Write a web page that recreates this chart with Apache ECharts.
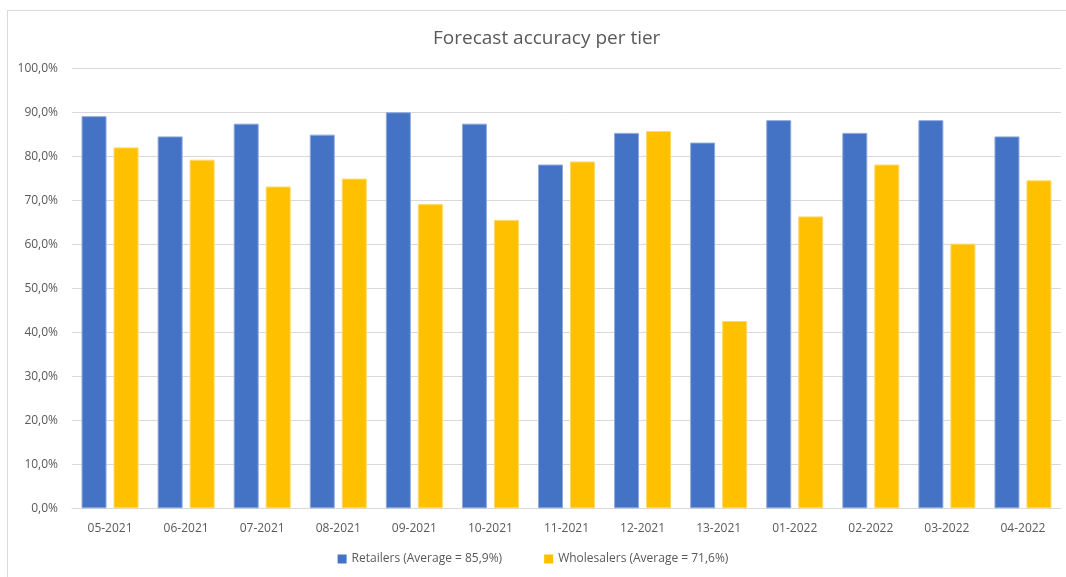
<!DOCTYPE html>
<html>
<head>
<meta charset="utf-8">
<script src="https://cdn.jsdelivr.net/npm/echarts@6/dist/echarts.min.js"></script>
<style>
  html, body { margin: 0; padding: 0; background: #fff; }
  #frame { position: absolute; left: 7px; top: 10px; right: -2px; bottom: -2px;
           border-top: 1px solid #D9D9D9; border-left: 1px solid #D9D9D9; }
  #chart { position: absolute; left: 0; top: 0; width: 1066px; height: 577px; }
</style>
</head>
<body>
<div id="frame"></div>
<div id="chart"></div>
<script>
// Monthly periods
const periods = ['05-2021', '06-2021', '07-2021', '08-2021', '09-2021', '10-2021', '11-2021',
                 '12-2021', '13-2021', '01-2022', '02-2022', '03-2022', '04-2022'];

// Forecast accuracy (%) per tier
const retailers   = [89.2, 84.6, 87.5, 85.0, 90.1, 87.5, 78.2, 85.4, 83.2, 88.3, 85.4, 88.3, 84.6];
const wholesalers = [82.1, 79.3, 73.2, 75.0, 69.2, 65.6, 78.9, 85.8, 42.6, 66.4, 78.2, 60.2, 74.6];

const retailersName   = 'Retailers (Average = 85,9%)';
const wholesalersName = 'Wholesalers (Average = 71,6%)';

const FONT = '"Open Sans", "Noto Sans", sans-serif';
const TEXT = '#595959';

const chart = echarts.init(document.getElementById('chart'), null, { renderer: 'canvas' });

chart.setOption({
  animation: false,
  textStyle: { fontFamily: FONT, color: TEXT },
  title: {
    text: 'Forecast accuracy per tier',
    left: 428,
    top: 24,
    textStyle: { fontFamily: FONT, fontSize: 19, fontWeight: 'normal', color: TEXT }
  },
  legend: {
    bottom: 7,
    left: 'center',
    itemWidth: 9,
    itemHeight: 9,
    itemGap: 42,
    icon: 'rect',
    itemStyle: { borderWidth: 0 },
    textStyle: { fontFamily: FONT, fontSize: 12, color: TEXT },
    data: [retailersName, wholesalersName]
  },
  grid: { left: 72, right: 5, top: 68.7, bottom: 68.7, containLabel: false },
  xAxis: {
    type: 'category',
    data: periods,
    axisLine: { lineStyle: { color: '#D9D9D9', width: 1 } },
    axisTick: { show: false },
    axisLabel: { fontFamily: FONT, fontSize: 12, color: TEXT, margin: 14 }
  },
  yAxis: {
    type: 'value',
    min: 0,
    max: 100,
    interval: 10,
    axisLine: { show: false },
    axisTick: { show: false },
    splitLine: { lineStyle: { color: '#D9D9D9', width: 1 } },
    axisLabel: {
      fontFamily: FONT, fontSize: 12, color: TEXT, margin: 14,
      formatter: v => v.toFixed(1).replace('.', ',') + '%'
    }
  },
  series: [
    {
      name: retailersName,
      type: 'bar',
      data: retailers,
      barWidth: 25,
      barGap: '28%',
      itemStyle: { color: '#4472C4', borderColor: '#8FAADC', borderWidth: 1 }
    },
    {
      name: wholesalersName,
      type: 'bar',
      data: wholesalers,
      barWidth: 25,
      itemStyle: { color: '#FFC000', borderColor: '#FFD966', borderWidth: 1 }
    }
  ]
});
</script>
</body>
</html>
